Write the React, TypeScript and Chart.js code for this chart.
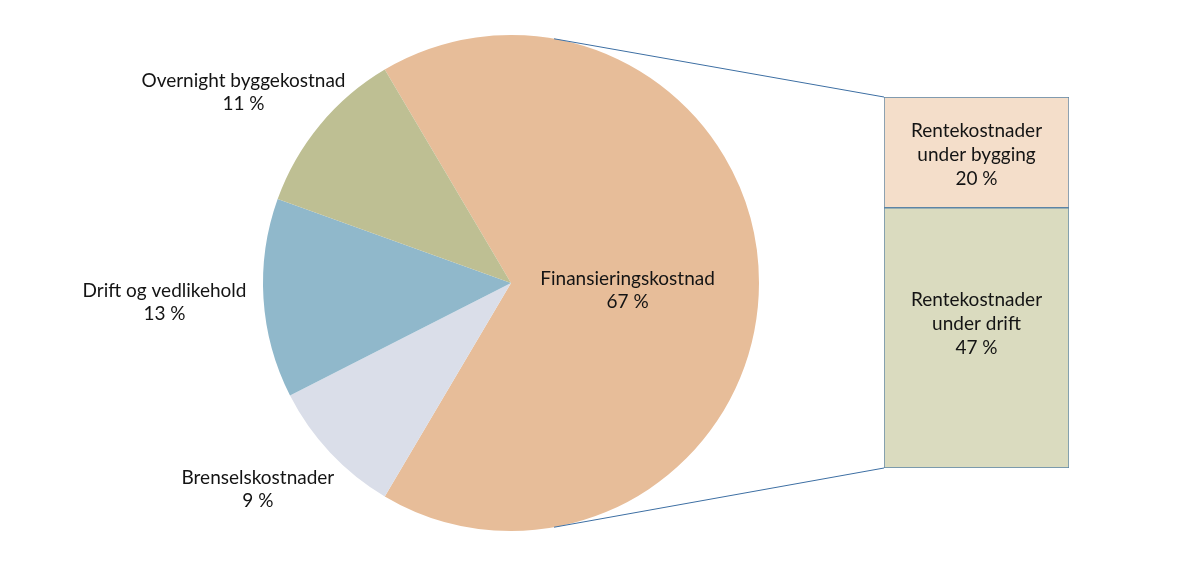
import { useEffect, useRef } from "react";
import { Chart, registerables, type Plugin } from "chart.js";

Chart.register(...registerables);

// pie: the financing slice is split out into the bar on the right
const pieLabels = [
  "Finansieringskostnad",
  "Brenselskostnader",
  "Drift og vedlikehold",
  "Overnight byggekostnad",
];
const pieValues = [67, 9, 13, 11];
const pieColors = ["#E7BD99", "#DADEE9", "#90B8CB", "#BEBF93"];

const barLabels = ["Rentekostnader|under drift", "Rentekostnader|under bygging"];
const barValues = [47, 20];
const barColors = ["#DADBBF", "#F4DECA"];

const FONT = "19px Lato, 'Noto Sans', sans-serif";
const TEXT = "#141414";

// where the bar sits on the page
const BAR = { left: 884, top: 97, width: 185, height: 371 };
const BAR_PAD = 10;

const drawLines = (ctx: CanvasRenderingContext2D, lines: string[], x: number, y: number, lh: number) => {
  const y0 = y - ((lines.length - 1) * lh) / 2;
  lines.forEach((l, i) => ctx.fillText(l, x, y0 + i * lh));
};

const pieLabelPlugin: Plugin<"pie"> = {
  id: "pieLabels",
  afterDatasetsDraw(chart) {
    const { ctx } = chart;
    const meta = chart.getDatasetMeta(0);
    ctx.save();
    ctx.font = FONT;
    ctx.fillStyle = TEXT;
    ctx.textAlign = "center";
    ctx.textBaseline = "middle";
    meta.data.forEach((el: any, i) => {
      const { x, y, startAngle, endAngle, outerRadius } = el.getProps(
        ["x", "y", "startAngle", "endAngle", "outerRadius"],
        true
      );
      const mid = (startAngle + endAngle) / 2;
      const inside = i === 0;
      const lx = x + Math.cos(mid) * outerRadius * (inside ? 0.47 : 1.4);
      const ly = y + Math.sin(mid) * outerRadius * (inside ? 0.47 : 1.21) + (inside ? 7 : 1);
      drawLines(ctx, [pieLabels[i], `${pieValues[i]} %`], lx, ly, 23);
    });

    // connector lines from the financing slice to the bar
    const el: any = meta.data[0];
    const { x, y, outerRadius } = el.getProps(["x", "y", "outerRadius"], true);
    const a = (80 * Math.PI) / 180;
    ctx.strokeStyle = "#3D6FA3";
    ctx.lineWidth = 1;
    ctx.beginPath();
    ctx.moveTo(x + Math.cos(-a) * outerRadius, y + Math.sin(-a) * outerRadius);
    ctx.lineTo(BAR.left, BAR.top);
    ctx.moveTo(x + Math.cos(a) * outerRadius, y + Math.sin(a) * outerRadius);
    ctx.lineTo(BAR.left, BAR.top + BAR.height);
    ctx.stroke();
    ctx.restore();
  },
};

const barLabelPlugin: Plugin<"bar"> = {
  id: "barLabels",
  afterDatasetsDraw(chart) {
    const { ctx } = chart;
    ctx.save();
    ctx.font = FONT;
    ctx.fillStyle = TEXT;
    ctx.textAlign = "center";
    ctx.textBaseline = "middle";
    chart.data.datasets.forEach((_, i) => {
      const el: any = chart.getDatasetMeta(i).data[0];
      const { x, y, base } = el.getProps(["x", "y", "base"], true);
      const lines = [...barLabels[i].split("|"), `${barValues[i]} %`];
      // the tall segment has its label raised a little, as in the original
      const cy = (y + base) / 2 + (i === 0 ? -14 : 3);
      drawLines(ctx, lines, x, cy, 24);
    });
    ctx.restore();
  },
};

const App = () => {
  const pieRef = useRef<HTMLCanvasElement>(null);
  const barRef = useRef<HTMLCanvasElement>(null);

  useEffect(() => {
    document.body.style.margin = "0";
    const pctx = pieRef.current?.getContext("2d");
    const bctx = barRef.current?.getContext("2d");
    if (!pctx || !bctx) return;

    const pie = new Chart(pctx, {
      type: "pie",
      data: {
        labels: pieLabels,
        datasets: [{ data: pieValues, backgroundColor: pieColors, borderWidth: 0 }],
      },
      options: {
        animation: false,
        responsive: false,
        rotation: -30.6,
        layout: { padding: { left: 263, right: 439, top: 35, bottom: 37 } },
        plugins: { legend: { display: false }, tooltip: { enabled: false } },
      },
      plugins: [pieLabelPlugin],
    });

    const bar = new Chart(bctx, {
      type: "bar",
      data: {
        labels: [""],
        datasets: barValues.map((v, i) => ({
          label: barLabels[i],
          data: [v],
          backgroundColor: barColors[i],
          borderColor: "#5B85A6",
          borderWidth: 1,
          borderSkipped: false,
          barPercentage: 1,
          categoryPercentage: 1,
        })),
      },
      options: {
        animation: false,
        responsive: false,
        layout: { padding: BAR_PAD },
        scales: {
          x: { stacked: true, display: false },
          y: { stacked: true, display: false, min: 0, max: 67 },
        },
        plugins: { legend: { display: false }, tooltip: { enabled: false } },
      },
      plugins: [barLabelPlugin],
    });

    return () => {
      pie.destroy();
      bar.destroy();
    };
  }, []);

  return (
    <div style={{ position: "relative", width: 1198, height: 568, background: "#fff" }}>
      <canvas ref={pieRef} width={1198} height={568} style={{ position: "absolute", left: 0, top: 0 }} />
      <canvas
        ref={barRef}
        width={BAR.width + 2 * BAR_PAD}
        height={BAR.height + 2 * BAR_PAD}
        style={{ position: "absolute", left: BAR.left - BAR_PAD, top: BAR.top - BAR_PAD }}
      />
    </div>
  );
};

export default App;
